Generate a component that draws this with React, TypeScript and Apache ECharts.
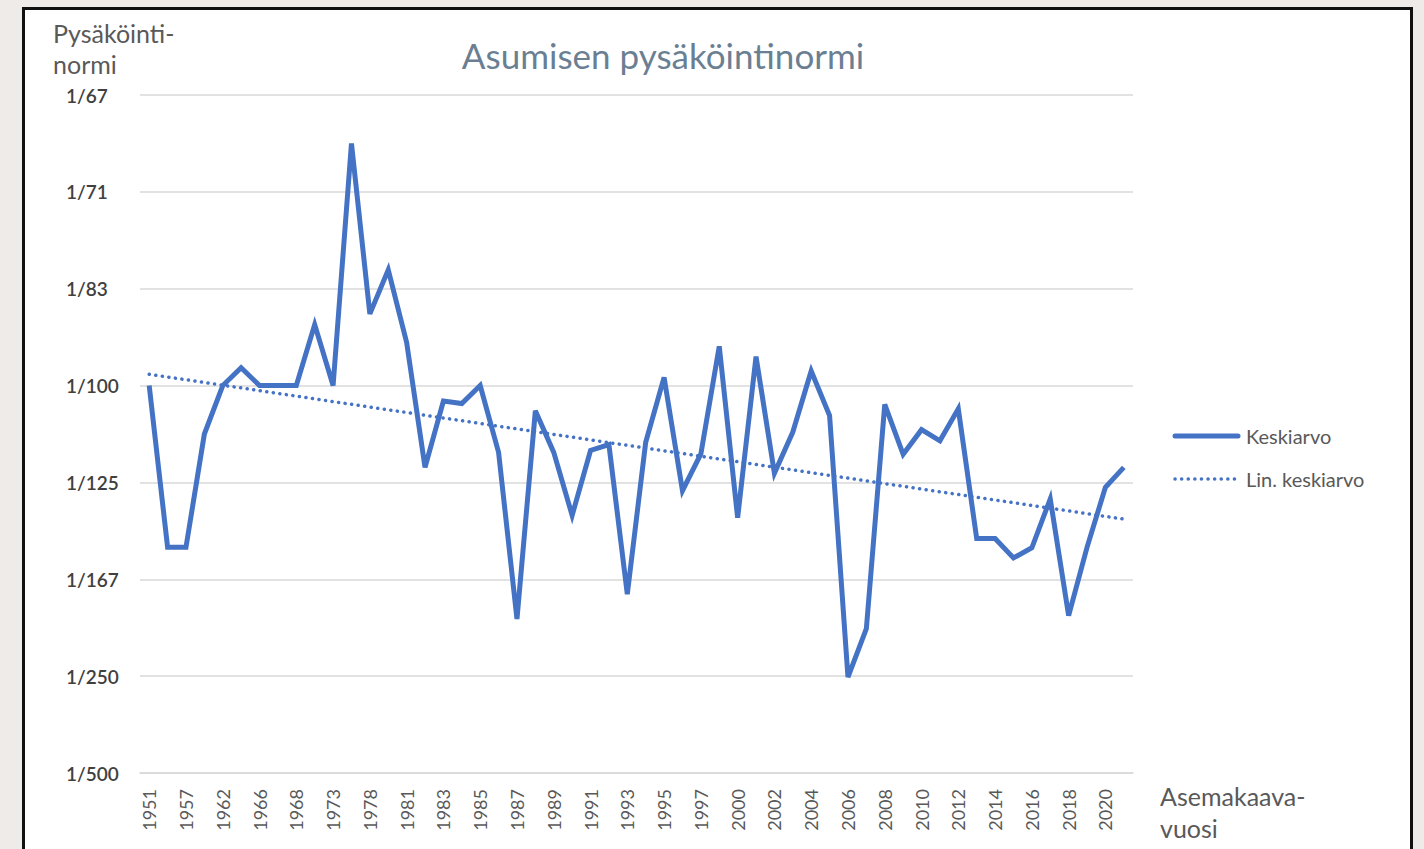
import React, { useEffect, useRef } from "react";
import * as echarts from "echarts";

const years: string[] = [
  "1951", "1955", "1957", "1960", "1962", "1964", "1966", "1967", "1968", "1970",
  "1973", "1975", "1978", "1979", "1981", "1982", "1983", "1984", "1985", "1986",
  "1987", "1988", "1989", "1990", "1991", "1992", "1993", "1994", "1995", "1996",
  "1997", "1999", "2000", "2001", "2002", "2003", "2004", "2005", "2006", "2007",
  "2008", "2009", "2010", "2011", "2012", "2013", "2014", "2015", "2016", "2017",
  "2018", "2019", "2020", "2021",
];

// parking spaces per m² of floor area (1/100 = 0.010)
const keskiarvo: number[] = [
  0.0100, 0.00666, 0.00666, 0.0090, 0.0100, 0.01037, 0.0100, 0.0100, 0.0100, 0.01126,
  0.0100, 0.0150, 0.01148, 0.01239, 0.01089, 0.00831, 0.00968, 0.00963, 0.0100, 0.00862,
  0.00518, 0.00948, 0.00862, 0.00732, 0.00866, 0.00878, 0.00569, 0.00883, 0.01017, 0.00783,
  0.00859, 0.01081, 0.00727, 0.0106, 0.00819, 0.00904, 0.0103, 0.00938, 0.00398, 0.00498,
  0.00961, 0.00858, 0.00909, 0.00886, 0.00952, 0.00684, 0.00684, 0.00644, 0.00665, 0.00766,
  0.00525, 0.00666, 0.0079, 0.00831,
];

const yTickLabels: string[] = ["1/500", "1/250", "1/167", "1/125", "1/100", "1/83", "1/71", "1/67"];

const seriesNames: string[] = ["Keskiarvo", "Lin. keskiarvo"];

function linearTrend(vals: number[]): number[] {
  const n = vals.length;
  let sx = 0, sy = 0, sxy = 0, sxx = 0;
  vals.forEach((v, i) => {
    const x = i + 1;
    sx += x; sy += v; sxy += x * v; sxx += x * x;
  });
  const b = (n * sxy - sx * sy) / (n * sxx - sx * sx);
  const a = (sy - b * sx) / n;
  return vals.map((_, i) => a + b * (i + 1));
}

const FONT = "Lato, 'Open Sans', sans-serif";
const BLUE = "#4472c4";
const DOTS = [0.1, 6.5];

export default function App() {
  const ref = useRef<HTMLDivElement>(null);

  useEffect(() => {
    if (!ref.current) return;
    const chart = echarts.init(ref.current, undefined, { renderer: "svg" });
    const trend = linearTrend(keskiarvo);
    chart.setOption({
      animation: false,
      backgroundColor: "transparent",
      textStyle: { fontFamily: FONT },
      title: {
        text: "Asumisen pysäköintinormi",
        left: 658,
        textAlign: "center",
        top: 32,
        textStyle: { fontFamily: FONT, fontSize: 35, fontWeight: "normal", color: "#6b7f93" },
      },
      grid: { left: 140, right: 291, top: 95, bottom: 76, containLabel: false },
      graphic: [
        {
          type: "text",
          left: 53,
          top: 17,
          style: {
            text: "Pysäköinti-\nnormi",
            font: `25px ${FONT}`,
            fill: "#595959",
            lineHeight: 31,
          },
        },
        {
          type: "text",
          left: 1160,
          top: 780,
          style: {
            text: "Asemakaava-\nvuosi",
            font: `25px ${FONT}`,
            fill: "#595959",
            lineHeight: 32,
          },
        },
        {
          type: "line",
          shape: { x1: 1175, y1: 436, x2: 1238, y2: 436 },
          style: { stroke: BLUE, lineWidth: 5, lineCap: "round" },
        },
        {
          type: "text",
          x: 1246,
          y: 436,
          style: { text: seriesNames[0], font: `20px ${FONT}`, fill: "#595959", verticalAlign: "middle" },
        },
        {
          type: "line",
          shape: { x1: 1175, y1: 479, x2: 1238, y2: 479 },
          style: { stroke: BLUE, lineWidth: 3.5, lineCap: "round", lineDash: DOTS },
        },
        {
          type: "text",
          x: 1246,
          y: 479,
          style: { text: seriesNames[1], font: `20px ${FONT}`, fill: "#595959", verticalAlign: "middle" },
        },
      ],
      xAxis: {
        type: "category",
        data: years,
        boundaryGap: true,
        axisLine: { show: true, lineStyle: { color: "#d9d9d9", width: 1.5 } },
        axisTick: { show: false },
        axisLabel: {
          interval: 1,
          rotate: 90,
          margin: 16,
          fontFamily: FONT,
          fontSize: 18,
          color: "#595959",
        },
      },
      yAxis: {
        type: "value",
        min: 0.002,
        max: 0.016,
        interval: 0.002,
        axisLine: { show: false },
        axisTick: { show: false },
        splitLine: { lineStyle: { color: "#d9d9d9", width: 1.5 } },
        axisLabel: {
          margin: 74,
          align: "left",
          fontFamily: FONT,
          fontSize: 19,
          fontWeight: 600,
          color: "#404040",
          formatter: (v: number) => yTickLabels[Math.round((v - 0.002) / 0.002)] ?? "",
        },
      },
      series: [
        {
          name: seriesNames[0],
          type: "line",
          data: keskiarvo,
          symbol: "none",
          lineStyle: { color: BLUE, width: 5, join: "miter" },
          itemStyle: { color: BLUE },
        },
        {
          name: seriesNames[1],
          type: "line",
          data: trend,
          symbol: "none",
          lineStyle: { color: BLUE, width: 3.5, type: DOTS, cap: "round" },
          itemStyle: { color: BLUE },
        },
      ],
    });
    return () => chart.dispose();
  }, []);

  return (
    <div style={{ position: "fixed", left: 0, top: 0, width: 1424, height: 849, background: "#efebe8", overflow: "hidden" }}>
      <div
        style={{
          position: "absolute",
          left: 22,
          top: 7,
          width: 1385,
          height: 900,
          background: "#ffffff",
          border: "3px solid #111111",
        }}
      />
      <div ref={ref} style={{ position: "absolute", left: 0, top: 0, width: 1424, height: 849 }} />
    </div>
  );
}
